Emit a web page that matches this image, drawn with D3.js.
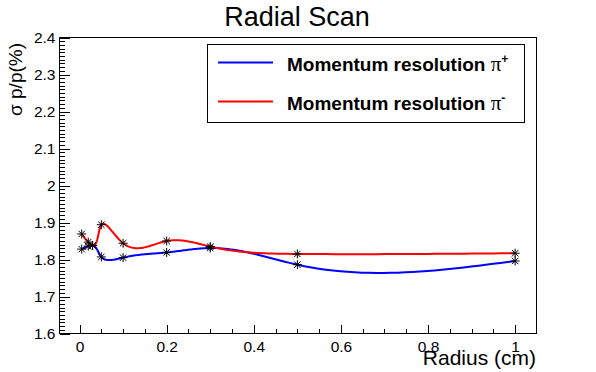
<!DOCTYPE html>
<html>
<head>
<meta charset="utf-8">
<script src="https://cdn.jsdelivr.net/npm/d3@7"></script>
<style>
  html, body { margin: 0; padding: 0; background: #fff; }
  svg { display: block; font-family: "Liberation Sans", Arial, Helvetica, sans-serif; }
</style>
</head>
<body>
<svg id="svg" width="596" height="372"></svg>
<script>
// Radial scan: momentum resolution vs radius, ROOT-like frame
const radius     = [0.005, 0.02, 0.03, 0.05, 0.1, 0.2, 0.3, 0.5, 1.0];
const resPiPlus  = [1.828, 1.836, 1.838, 1.807, 1.805, 1.819, 1.831, 1.786, 1.796];
const resPiMinus = [1.869, 1.847, 1.838, 1.894, 1.844, 1.850, 1.835, 1.815, 1.817];

const xMajor = [0, 0.2, 0.4, 0.6, 0.8, 1.0];
const yMajor = [1.6, 1.7, 1.8, 1.9, 2.0, 2.1, 2.2, 2.3, 2.4];

const SERIES = [
  { name: "Momentum resolution \u03c0", sup: "+", color: "#0000ff", values: resPiPlus },
  { name: "Momentum resolution \u03c0", sup: "-", color: "#ff0000", values: resPiMinus },
];

const svg = d3.select("#svg");
const frame = { left: 59.5, right: 536.5, top: 37.5, bottom: 333.5 };

const x = d3.scaleLinear().domain([-0.046, 1.049]).range([frame.left, frame.right]);
const y = d3.scaleLinear().domain([1.6, 2.4]).range([frame.bottom, frame.top]);

// title
svg.append("text")
  .attr("x", 297).attr("y", 26)
  .attr("text-anchor", "middle")
  .attr("font-size", 27)
  .text("Radial Scan");

// axes
const noDomain = g => g.select(".domain").remove();

svg.append("g").attr("transform", `translate(0,${frame.bottom})`)
  .call(d3.axisBottom(x).tickValues(d3.range(0, 1.0001, 0.05)).tickSize(-4.5).tickFormat(""))
  .call(noDomain);
svg.append("g").attr("transform", `translate(0,${frame.bottom})`)
  .call(d3.axisBottom(x).tickValues(xMajor).tickSize(-9).tickPadding(7)
    .tickFormat(d => String(+d.toFixed(1))))
  .call(noDomain)
  .call(g => g.selectAll("text").attr("font-size", 15.5).attr("fill", "#000")
    .attr("font-family", "Liberation Sans, Arial, sans-serif"));

svg.append("g").attr("transform", `translate(${frame.left},0)`)
  .call(d3.axisLeft(y).tickValues(d3.range(160, 241).map(i => i / 100)).tickSize(-5).tickFormat(""))
  .call(noDomain);
svg.append("g").attr("transform", `translate(${frame.left},0)`)
  .call(d3.axisLeft(y).tickValues(yMajor).tickSize(-10).tickPadding(4)
    .tickFormat(d => String(+d.toFixed(1))))
  .call(noDomain)
  .call(g => g.selectAll("text").attr("font-size", 15.5).attr("fill", "#000")
    .attr("font-family", "Liberation Sans, Arial, sans-serif"));

svg.selectAll(".tick line").attr("stroke", "#000").attr("shape-rendering", "crispEdges");

// frame
svg.append("rect")
  .attr("x", frame.left).attr("y", frame.top)
  .attr("width", frame.right - frame.left).attr("height", frame.bottom - frame.top)
  .attr("fill", "none").attr("stroke", "#000").attr("shape-rendering", "crispEdges");

// axis titles
svg.append("text")
  .attr("x", 536).attr("y", 365)
  .attr("text-anchor", "end").attr("font-size", 21)
  .text("Radius (cm)");
svg.append("text")
  .attr("transform", "translate(22,43) rotate(-90)")
  .attr("text-anchor", "end").attr("font-size", 19)
  .text("\u03c3 p/p(%)");

// natural cubic spline of v over knots t
function spline(t, v) {
  const n = t.length, h = [], M = new Array(n).fill(0);
  for (let i = 0; i < n - 1; i++) h.push(t[i + 1] - t[i]);
  const a = [], b = [], c = [], r = [];
  for (let i = 1; i < n - 1; i++) {
    a.push(h[i - 1]); b.push(2 * (h[i - 1] + h[i])); c.push(h[i]);
    r.push(6 * ((v[i + 1] - v[i]) / h[i] - (v[i] - v[i - 1]) / h[i - 1]));
  }
  const m = r.length;
  for (let i = 1; i < m; i++) {
    const w = a[i] / b[i - 1];
    b[i] -= w * c[i - 1]; r[i] -= w * r[i - 1];
  }
  for (let i = m - 1; i >= 0; i--) M[i + 1] = (r[i] - (i < m - 1 ? c[i] * M[i + 2] : 0)) / b[i];
  return (i, s) => {
    const A = t[i + 1] - s, B = s - t[i], H = h[i];
    return (M[i] * A * A * A + M[i + 1] * B * B * B) / (6 * H)
      + (v[i] / H - M[i] * H / 6) * A + (v[i + 1] / H - M[i + 1] * H / 6) * B;
  };
}

// smooth curve through the points, parametrised by chord length in pixels
function smoothPath(values) {
  const px = radius.map(r => x(r)), py = values.map(v => y(v));
  const s = [0];
  for (let i = 1; i < px.length; i++) s.push(s[i - 1] + Math.hypot(px[i] - px[i - 1], py[i] - py[i - 1]));
  const fx = spline(s, px), fy = spline(s, py);
  const pts = [];
  for (let i = 0; i < px.length - 1; i++) {
    for (let k = 0; k < 30; k++) {
      const u = s[i] + (s[i + 1] - s[i]) * k / 30;
      pts.push([fx(i, u), fy(i, u)]);
    }
  }
  pts.push([px[px.length - 1], py[py.length - 1]]);
  return d3.line()(pts);
}

const plot = svg.append("g");
for (const s of SERIES) {
  plot.append("path")
    .attr("d", smoothPath(s.values))
    .attr("fill", "none").attr("stroke", s.color).attr("stroke-width", 2);
}

// star markers (ROOT marker 3)
const star = (cx, cy) => {
  const a = 4.5, b = 3.2;
  return `M${cx - a},${cy}H${cx + a}M${cx},${cy - a}V${cy + a}` +
    `M${cx - b},${cy - b}L${cx + b},${cy + b}M${cx - b},${cy + b}L${cx + b},${cy - b}`;
};
for (const s of SERIES) {
  plot.append("g").selectAll("path")
    .data(radius.map((r, i) => [r, s.values[i]]))
    .join("path")
    .attr("d", d => star(x(d[0]), y(d[1])))
    .attr("stroke", "#000").attr("stroke-width", 1).attr("fill", "none");
}

// legend
const leg = svg.append("g");
leg.append("rect")
  .attr("x", 207.5).attr("y", 44.5).attr("width", 317).attr("height", 78)
  .attr("fill", "#fff").attr("stroke", "#000").attr("shape-rendering", "crispEdges");
SERIES.forEach((s, i) => {
  const ly = 62.5 + i * 39;
  leg.append("line")
    .attr("x1", 218).attr("x2", 273).attr("y1", ly).attr("y2", ly)
    .attr("stroke", s.color).attr("stroke-width", 2);
  const t = leg.append("text")
    .attr("x", 287).attr("y", ly + 8)
    .attr("font-size", 19);
  t.append("tspan").attr("font-weight", "bold").text(s.name.slice(0, -1));
  t.append("tspan").attr("font-family", "Liberation Serif, Times New Roman, serif").attr("font-size", 21)
    .text(s.name.slice(-1));
  t.append("tspan").attr("font-size", 12).attr("dy", -8).attr("font-weight", "bold").text(s.sup);
});
</script>
</body>
</html>
